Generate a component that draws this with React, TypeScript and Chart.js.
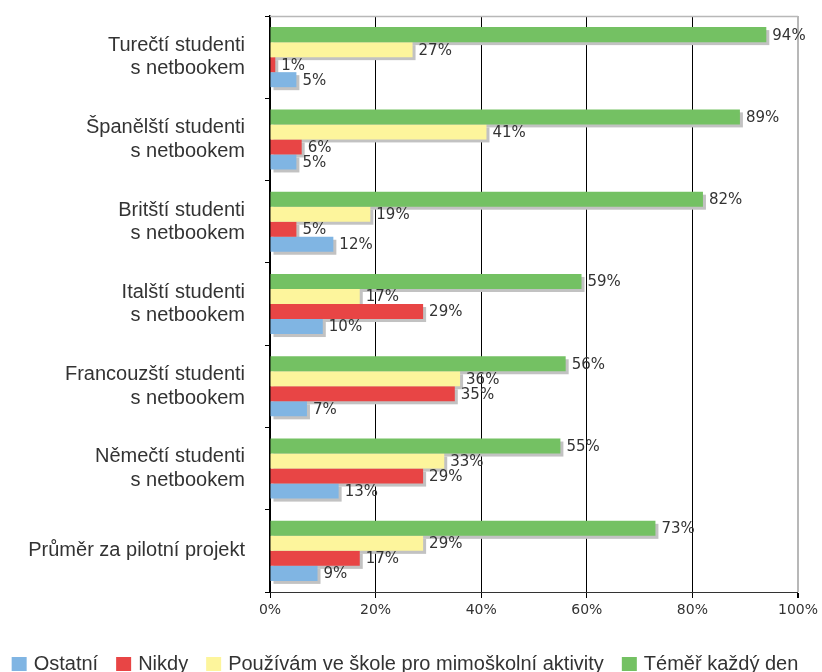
import React, { useEffect, useRef } from 'react';
import { Chart, registerables } from 'chart.js';

Chart.register(...registerables);

const categories: (string | string[])[] = [
  ['Turečtí studenti', 's netbookem'],
  ['Španělští studenti', 's netbookem'],
  ['Britští studenti', 's netbookem'],
  ['Italští studenti', 's netbookem'],
  ['Francouzští studenti', 's netbookem'],
  ['Němečtí studenti', 's netbookem'],
  'Průměr za pilotní projekt',
];

const seriesNames = [
  'Téměř každý den',
  'Používám ve škole pro mimoškolní aktivity',
  'Nikdy',
  'Ostatní',
];

const almostEveryDay = [94, 89, 82, 59, 56, 55, 73];
const schoolExtracurricular = [27, 41, 19, 17, 36, 33, 29];
const never = [1, 6, 5, 29, 35, 29, 17];
const other = [5, 5, 12, 10, 7, 13, 9];

const xTickValues = [0, 20, 40, 60, 80, 100];

const seriesColors = ['#74c163', '#fdf59c', '#e84545', '#80b5e3'];

const TEXT_COLOR = '#333333';

const shadowPlugin = {
  id: 'barShadow',
  beforeDatasetsDraw(chart: any) {
    const ctx = chart.ctx;
    const area = chart.chartArea;
    ctx.save();
    ctx.strokeStyle = '#b8b8b8';
    ctx.lineWidth = 1.5;
    ctx.beginPath();
    ctx.moveTo(area.left, area.top + 0.5);
    ctx.lineTo(area.right, area.top + 0.5);
    ctx.stroke();
    ctx.fillStyle = '#c2c2c2';
    chart.data.datasets.forEach((_d: any, i: number) => {
      const meta = chart.getDatasetMeta(i);
      meta.data.forEach((el: any) => {
        const { x, y, base, height } = el.getProps(['x', 'y', 'base', 'height'], true);
        ctx.fillRect(Math.min(x, base) + 3, y - height / 2 + 3, Math.abs(x - base), height);
      });
    });
    ctx.restore();
  },
};

const valueLabelPlugin = {
  id: 'valueLabels',
  afterDatasetsDraw(chart: any) {
    const ctx = chart.ctx;
    ctx.save();
    ctx.font = '15px "DejaVu Sans"';
    ctx.fillStyle = TEXT_COLOR;
    ctx.textBaseline = 'middle';
    ctx.textAlign = 'left';
    chart.data.datasets.forEach((d: any, i: number) => {
      const meta = chart.getDatasetMeta(i);
      meta.data.forEach((el: any, j: number) => {
        const { x, y } = el.getProps(['x', 'y'], true);
        ctx.fillText(d.data[j] + '%', x + 6, y + 1);
      });
    });
    ctx.restore();
  },
};

const legendPlugin = {
  id: 'customLegend',
  afterDraw(chart: any) {
    const ctx = chart.ctx;
    ctx.save();
    ctx.font = '20px "Liberation Sans"';
    const items = chart.data.datasets
      .map((d: any) => ({ label: d.label as string, color: d.backgroundColor as string }))
      .reverse();
    const box = 15;
    const boxH = 14;
    const gapText = 7;
    const gapItem = 18;
    const widths = items.map((it: any) => ctx.measureText(it.label).width);
    const total =
      widths.reduce((a: number, b: number) => a + b, 0) +
      items.length * (box + gapText) +
      (items.length - 1) * gapItem;
    let x = 405 - total / 2;
    items.forEach((it: any, i: number) => {
      ctx.fillStyle = it.color;
      ctx.fillRect(x, 657, box, boxH);
      x += box + gapText;
      ctx.fillStyle = TEXT_COLOR;
      ctx.textBaseline = 'alphabetic';
      ctx.textAlign = 'left';
      ctx.fillText(it.label, x, 670);
      x += widths[i] + gapItem;
    });
    ctx.restore();
  },
};

export default function App() {
  const ref = useRef<HTMLCanvasElement>(null);

  useEffect(() => {
    const seriesData = [almostEveryDay, schoolExtracurricular, never, other];
    const chart = new Chart(ref.current as HTMLCanvasElement, {
      type: 'bar',
      data: {
        labels: categories as any,
        datasets: seriesNames.map((name, i) => ({
          label: name,
          data: seriesData[i],
          backgroundColor: seriesColors[i],
          borderWidth: 0,
          categoryPercentage: 0.73,
          barPercentage: 1,
        })),
      },
      options: {
        indexAxis: 'y',
        responsive: false,
        animation: false,
        devicePixelRatio: 1,
        layout: { padding: { left: 0, right: 22, top: 16, bottom: 0 } },
        plugins: {
          legend: { display: false },
          tooltip: { enabled: false },
        },
        scales: {
          x: {
            min: 0,
            max: 100,
            afterBuildTicks: (scale: any) => {
              scale.ticks = xTickValues.map((v) => ({ value: v }));
            },
            afterFit: (scale: any) => {
              scale.height = 80;
            },
            ticks: {
              callback: (v: any) => v + '%',
              font: { family: 'DejaVu Sans', size: 14 },
              color: TEXT_COLOR,
              padding: 4,
              maxRotation: 0,
            },
            grid: {
              color: (c: any) => (c.tick && c.tick.value === 100 ? '#b8b8b8' : '#000000'),
              lineWidth: (c: any) => (c.tick && c.tick.value === 100 ? 2 : 1),
              tickColor: '#000000',
              tickLength: 6,
              drawOnChartArea: true,
            },
            border: { color: '#333333', width: 1 },
          },
          y: {
            afterFit: (scale: any) => {
              scale.width = 270;
              scale.paddingTop = 0;
              scale.paddingBottom = 0;
            },
            ticks: {
              font: { family: 'Liberation Sans', size: 20, lineHeight: 1.17 },
              color: TEXT_COLOR,
              padding: 20,
              autoSkip: false,
            },
            grid: {
              offset: true,
              drawOnChartArea: false,
              tickLength: 5,
              tickColor: '#000000',
              color: '#000000',
            },
            border: { color: '#000000', width: 1.5 },
          },
        },
      },
      plugins: [shadowPlugin, valueLabelPlugin, legendPlugin],
    });
    return () => chart.destroy();
  }, []);

  return (
    <div style={{ position: 'absolute', left: 0, top: 0, width: 822, height: 672 }}>
      <canvas ref={ref} width={822} height={672} style={{ display: 'block', width: 822, height: 672 }} />
    </div>
  );
}
